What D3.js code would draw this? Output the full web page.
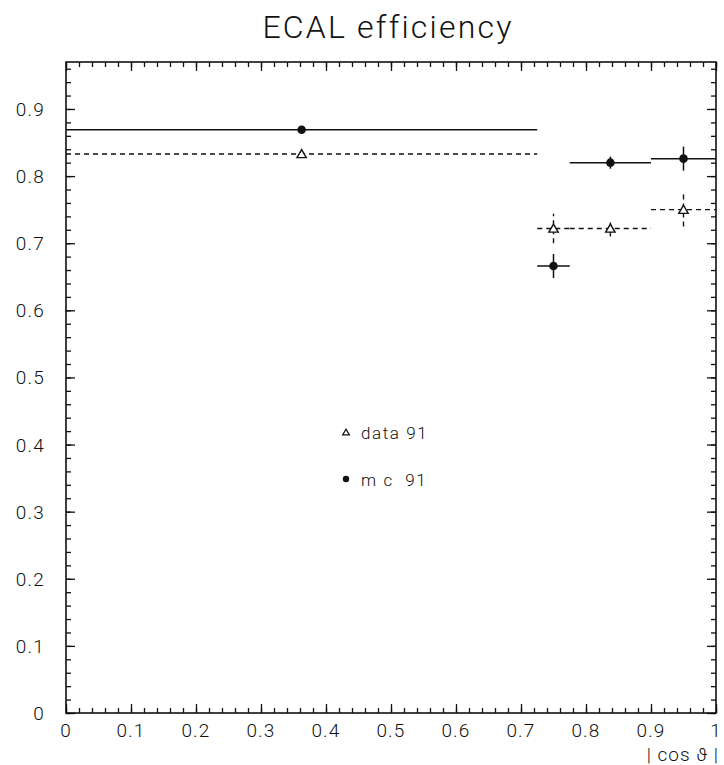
<!DOCTYPE html>
<html><head><meta charset="utf-8">
<script src="https://cdn.jsdelivr.net/npm/d3@7"></script>
<style>
html,body{margin:0;padding:0;background:#fff;}
svg{display:block;}
text{font-family:Roboto,"DejaVu Sans",sans-serif;font-weight:300;fill:#111;}
</style></head>
<body>
<svg id="chart" width="724" height="765"></svg>
<script>
// ---- data ----
const binLo   = [0, 0.725, 0.775, 0.9];
const binHi   = [0.725, 0.775, 0.9, 1.0];
const dataVal = [0.833, 0.722, 0.722, 0.750];
const dataErr = [0.003, 0.022, 0.012, 0.025];
const mcVal   = [0.869, 0.666, 0.820, 0.826];
const mcErr   = [0.002, 0.018, 0.009, 0.018];
const xTicks  = [0, 0.1, 0.2, 0.3, 0.4, 0.5, 0.6, 0.7, 0.8, 0.9, 1];
const xTickLabels = ["0","0.1","0.2","0.3","0.4","0.5","0.6","0.7","0.8","0.9","1"];
const yTicks  = [0, 0.1, 0.2, 0.3, 0.4, 0.5, 0.6, 0.7, 0.8, 0.9];
const yTickLabels = ["0","0.1","0.2","0.3","0.4","0.5","0.6","0.7","0.8","0.9"];
const legendLabels = ["data 91", "m c  91"];
const titleText = "ECAL efficiency";
const xTitle = "| cos \u03D1 |";

// ---- scales ----
const svg = d3.select("#chart");
const x = d3.scaleLinear().domain([0, 1]).range([66, 716]);
const y = d3.scaleLinear().domain([0, 0.97]).range([713, 62]);

const minorX = d3.range(0, 1.0001, 0.02);
const minorY = d3.range(0, 0.97, 0.02);

function styleAxis(g){
  g.select(".domain").remove();
  g.selectAll("line").attr("stroke","#111").attr("stroke-width",1.3);
  g.selectAll("text").remove();
}
// minor + major ticks, all four sides, inward
svg.append("g").attr("transform",`translate(0,${y(0)})`)
  .call(d3.axisBottom(x).tickValues(minorX).tickSize(-5)).call(styleAxis);
svg.append("g").attr("transform",`translate(0,${y(0)})`)
  .call(d3.axisBottom(x).tickValues(xTicks).tickSize(-9)).call(styleAxis);
svg.append("g").attr("transform",`translate(0,${y(0.97)})`)
  .call(d3.axisTop(x).tickValues(minorX).tickSize(-5)).call(styleAxis);
svg.append("g").attr("transform",`translate(0,${y(0.97)})`)
  .call(d3.axisTop(x).tickValues(xTicks).tickSize(-9)).call(styleAxis);
svg.append("g").attr("transform",`translate(${x(0)},0)`)
  .call(d3.axisLeft(y).tickValues(minorY).tickSize(-5)).call(styleAxis);
svg.append("g").attr("transform",`translate(${x(0)},0)`)
  .call(d3.axisLeft(y).tickValues(yTicks).tickSize(-9)).call(styleAxis);
svg.append("g").attr("transform",`translate(${x(1)},0)`)
  .call(d3.axisRight(y).tickValues(minorY).tickSize(-5)).call(styleAxis);
svg.append("g").attr("transform",`translate(${x(1)},0)`)
  .call(d3.axisRight(y).tickValues(yTicks).tickSize(-9)).call(styleAxis);

// frame
svg.append("rect").attr("x",x(0)).attr("y",y(0.97))
  .attr("width",x(1)-x(0)).attr("height",y(0)-y(0.97))
  .attr("fill","none").attr("stroke","#111").attr("stroke-width",1.6);

// tick labels
svg.append("g").selectAll("text").data(xTicks).join("text")
  .attr("x",d=>x(d)).attr("y",y(0)+24).attr("text-anchor","middle")
  .attr("font-size",19).attr("letter-spacing",1.2)
  .text((d,i)=>xTickLabels[i]);
svg.append("g").selectAll("text").data(yTicks).join("text")
  .attr("x",45).attr("y",d=>y(d)+7).attr("text-anchor","end")
  .attr("font-size",19).attr("letter-spacing",1.2)
  .text((d,i)=>yTickLabels[i]);

// title
svg.append("text").attr("x",388).attr("y",38).attr("text-anchor","middle")
  .attr("font-size",32).attr("font-weight",300).attr("letter-spacing",2.2).text(titleText);
svg.append("text").attr("x",719).attr("y",761).attr("text-anchor","end")
  .attr("font-size",19).attr("letter-spacing",1).style("white-space","pre").text(xTitle);

// ---- series ----
const idx = d3.range(binLo.length);
const mid = i => (binLo[i]+binHi[i])/2;

// data 91 : dashed
const gD = svg.append("g");
gD.selectAll("line.h").data(idx).join("line").attr("class","h")
  .attr("x1",i=>x(binLo[i])).attr("x2",i=>x(binHi[i]))
  .attr("y1",i=>y(dataVal[i])).attr("y2",i=>y(dataVal[i]))
  .attr("stroke","#111").attr("stroke-width",1.4).attr("stroke-dasharray","5,4");
gD.selectAll("line.v").data(idx).join("line").attr("class","v")
  .attr("x1",i=>x(mid(i))).attr("x2",i=>x(mid(i)))
  .attr("y1",i=>y(dataVal[i]-dataErr[i])).attr("y2",i=>y(dataVal[i]+dataErr[i]))
  .attr("stroke","#111").attr("stroke-width",1.4).attr("stroke-dasharray","5,4");
const tri = d3.symbol().type(d3.symbolTriangle).size(38);
gD.selectAll("path").data(idx).join("path")
  .attr("d",tri).attr("transform",i=>`translate(${x(mid(i))},${y(dataVal[i])+1})`)
  .attr("fill","#fff").attr("stroke","#111").attr("stroke-width",1.4);

// mc 91 : solid
const gM = svg.append("g");
gM.selectAll("line.h").data(idx).join("line").attr("class","h")
  .attr("x1",i=>x(binLo[i])).attr("x2",i=>x(binHi[i]))
  .attr("y1",i=>y(mcVal[i])).attr("y2",i=>y(mcVal[i]))
  .attr("stroke","#111").attr("stroke-width",1.5);
gM.selectAll("line.v").data(idx).join("line").attr("class","v")
  .attr("x1",i=>x(mid(i))).attr("x2",i=>x(mid(i)))
  .attr("y1",i=>y(mcVal[i]-mcErr[i])).attr("y2",i=>y(mcVal[i]+mcErr[i]))
  .attr("stroke","#111").attr("stroke-width",1.5);
gM.selectAll("circle").data(idx).join("circle")
  .attr("cx",i=>x(mid(i))).attr("cy",i=>y(mcVal[i])).attr("r",4.3).attr("fill","#111");

// legend
const lg = svg.append("g");
lg.append("path").attr("d",d3.symbol().type(d3.symbolTriangle).size(20))
  .attr("transform","translate(346,433)").attr("fill","#fff").attr("stroke","#111").attr("stroke-width",1.2);
lg.append("circle").attr("cx",346).attr("cy",479).attr("r",3.2).attr("fill","#111");
lg.selectAll("text").data(legendLabels).join("text")
  .attr("x",361).attr("y",(d,i)=>439+i*47).attr("font-size",17).attr("letter-spacing",1.6)
  .style("white-space","pre").text(d=>d);
</script>
</body></html>
